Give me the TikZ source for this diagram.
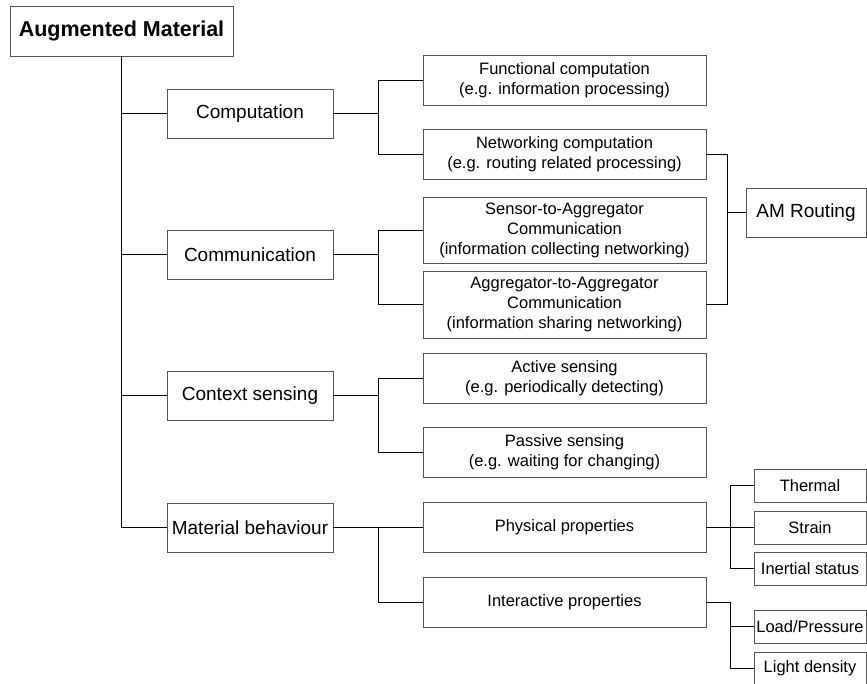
\documentclass[tikz,border=0pt]{standalone}
\usepackage{fontspec}
\setmainfont{Liberation Sans}
\definecolor{boxgray}{RGB}{85,85,85}

\tikzset{
	base/.style={draw=boxgray, line width=0.9pt, inner sep=0pt, align=center, text=black},
	rootbox/.style={base, minimum width=223, minimum height=50, font=\fontsize{21.5}{24}\selectfont\bfseries},
	topbox/.style={base, minimum width=166, minimum height=49, font=\fontsize{19}{22}\selectfont},
	subbox/.style={base, minimum width=283, minimum height=50, font=\fontsize{16.5}{20}\selectfont},
	leafbox/.style={base, minimum width=112, minimum height=33, font=\fontsize{16.5}{19}\selectfont},
	link/.style={draw=black, line width=0.9pt},
}

\begin{document}
\begin{tikzpicture}[x=1pt, y=-1pt]

% frame %{{{1

	\useasboundingbox (0,0) rectangle (867,683);

% buses %{{{1

	\coordinate (busA) at (378,0);
	\coordinate (busR) at (727,0);
	\coordinate (busL) at (730,0);

% root and first level %{{{1

	\node[rootbox] (root) at (121.5,31) {Augmented Material};

	\node[topbox] (comp) at (250,113.5) {Computation};
	\node[topbox] (comm) at (250,254.5) {Communication};
	\node[topbox] (ctx)  at (250,395.5) {Context sensing};
	\node[topbox] (matb) at (250,527.5) {Material behaviour};

% second level %{{{1

	\node[subbox] (func)    at (564.5,80)    {Functional computation\\(e.g. information processing)};
	\node[subbox] (netw)    at (564.5,154.5) {Networking computation\\(e.g. routing related processing)};
	\node[subbox, minimum height=66] (s2a) at (564.5,230) {Sensor-to-Aggregator\\Communication\\(information collecting networking)};
	\node[subbox, minimum height=67] (a2a) at (564.5,304.5) {Aggregator-to-Aggregator\\Communication\\(information sharing networking)};
	\node[subbox]  (active)  at (564.5,378.5) {Active sensing\\(e.g. periodically detecting)};
	\node[subbox]  (passive) at (564.5,452.5) {Passive sensing\\(e.g. waiting for changing)};
	\node[subbox]  (phys)    at (564.5,527.5) {Physical properties};
	\node[subbox]  (inter)   at (564.5,602)   {Interactive properties};

% routing and leaves %{{{1

	\node[base, minimum width=120, minimum height=49, font=\fontsize{19}{22}\selectfont] (amr) at (806,212.5) {AM Routing};

	\node[leafbox] (thermal)  at (810,485.5) {Thermal};
	\node[leafbox] (strain)   at (810,527.5) {Strain};
	\node[leafbox] (inertial) at (810,568.5) {Inertial status};
	\node[leafbox] (load)     at (810,626.5) {Load/Pressure};
	\node[leafbox] (light)    at (810,668.5) {Light density};

% trunk %{{{1

	\draw[link] (root.south) |- (matb.west);
	\foreach \n in {comp,comm,ctx}
		\draw[link] (root.south |- \n.west) -- (\n.west);

% first to second level %{{{1

	\foreach \p/\a/\b in {comp/func/netw, comm/s2a/a2a, ctx/active/passive, matb/phys/inter}
	{
		\draw[link] (\a.west) -- (\a.west -| busA) -- (\b.west -| busA) -- (\b.west);
		\draw[link] (\p.east) -- (\p.east -| busA);
	}

% AM routing %{{{1

	\draw[link] (netw.east) -- (netw.east -| busR) -- (a2a.east -| busR) -- (a2a.east);
	\draw[link] (amr.west) -- (amr.west -| busR);

% leaves %{{{1

	\draw[link] (thermal.west) -- (thermal.west -| busL) -- (inertial.west -| busL) -- (inertial.west);
	\draw[link] (strain.west) -- (strain.west -| busL);
	\draw[link] (phys.east) -- (phys.east -| busL);

	\draw[link] (inter.east) -- (inter.east -| busL) -- (light.west -| busL) -- (light.west);
	\draw[link] (load.west) -- (load.west -| busL);

% closing %{{{1

\end{tikzpicture}
\end{document}
